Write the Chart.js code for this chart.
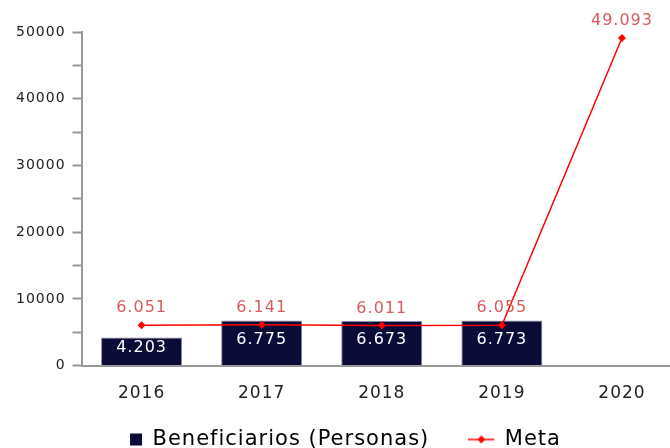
<!DOCTYPE html>
<html>
<head>
<meta charset="utf-8">
<script src="https://cdn.jsdelivr.net/npm/chart.js@4.4.0/dist/chart.umd.min.js"></script>
<style>
  html, body { margin: 0; padding: 0; background: #fff; overflow: hidden; }
  #wrap { width: 690px; height: 448px; }
</style>
</head>
<body>
<div id="wrap"><canvas id="chart"></canvas></div>
<script>
var years = ['2016', '2017', '2018', '2019', '2020'];
var beneficiarios = [4203, 6775, 6673, 6773, null];
var meta = [6051, 6141, 6011, 6055, 49093];
var yTicks = [0, 10000, 20000, 30000, 40000, 50000];

var navy = '#0b0b38';
var red = '#ff0000';
var labelRed = '#d85c5c';

function fmt(v) {
    return String(v).replace(/\B(?=(\d{3})+(?!\d))/g, '.');
}

// legend icon for Meta: line with a diamond, drawn in the left part of a wider canvas
function metaIcon() {
    var c = document.createElement('canvas');
    c.width = 40; c.height = 10;
    var g = c.getContext('2d');
    g.strokeStyle = red; g.lineWidth = 1.5;
    g.beginPath(); g.moveTo(0, 5); g.lineTo(26, 5); g.stroke();
    g.fillStyle = red;
    g.beginPath(); g.moveTo(13, 1); g.lineTo(17, 5); g.lineTo(13, 9); g.lineTo(9, 5); g.closePath(); g.fill();
    return c;
}

// the original text is a bit spaced out
var spacing = {
    id: 'spacing',
    beforeInit: function(chart) { chart.ctx.letterSpacing = '1px'; },
    beforeUpdate: function(chart) { chart.ctx.letterSpacing = '1px'; },
    beforeDraw: function(chart) { chart.ctx.letterSpacing = '1px'; }
};

var valueLabels = {
    id: 'valueLabels',
    afterDatasetsDraw: function(chart) {
        var ctx = chart.ctx;
        ctx.save();
        ctx.font = '16px "DejaVu Sans"';
        ctx.textAlign = 'center';
        ctx.textBaseline = 'middle';
        chart.getDatasetMeta(0).data.forEach(function(bar, i) {
            if (beneficiarios[i] == null) return;
            ctx.fillStyle = '#ffffff';
            ctx.fillText(fmt(beneficiarios[i]), bar.x, (bar.y + bar.base) / 2 - 3);
        });
        chart.getDatasetMeta(1).data.forEach(function(pt, i) {
            ctx.fillStyle = labelRed;
            ctx.fillText(fmt(meta[i]), pt.x, pt.y - 17);
        });
        ctx.restore();
    }
};

new Chart(document.getElementById('chart'), {
    type: 'bar',
    data: {
        labels: years,
        datasets: [{
            label: 'Beneficiarios (Personas)',
            data: beneficiarios,
            backgroundColor: navy,
            borderColor: '#8a8aa0',
            borderWidth: 1,
            categoryPercentage: 1,
            barPercentage: 0.675,
            order: 2
        }, {
            type: 'line',
            label: 'Meta',
            data: meta,
            borderColor: red,
            borderWidth: 1.5,
            backgroundColor: red,
            pointStyle: 'rectRot',
            pointRadius: 4,
            pointBorderWidth: 0,
            tension: 0,
            order: 1
        }]
    },
    options: {
        responsive: true,
        maintainAspectRatio: false,
        animation: false,
        layout: { padding: { top: 32, right: 8, left: 9, bottom: -12 } },
        plugins: {
            tooltip: { enabled: false },
            legend: {
                position: 'bottom',
                labels: {
                    color: '#222',
                    font: { family: 'DejaVu Sans', size: 21 },
                    usePointStyle: true,
                    boxWidth: 12,
                    boxHeight: 12,
                    padding: 7,
                    generateLabels: function(chart) {
                        return [{
                            text: 'Beneficiarios (Personas)      ',
                            fillStyle: navy,
                            strokeStyle: navy,
                            lineWidth: 0,
                            pointStyle: 'rect',
                            datasetIndex: 0
                        }, {
                            text: 'Meta',
                            fillStyle: red,
                            strokeStyle: red,
                            lineWidth: 0,
                            pointStyle: metaIcon(),
                            datasetIndex: 1
                        }];
                    }
                }
            }
        },
        scales: {
            x: {
                grid: { display: false, drawTicks: false },
                border: { color: '#999', width: 2 },
                ticks: { color: '#222', padding: 18, font: { family: 'DejaVu Sans', size: 17 } }
            },
            y: {
                min: 0,
                max: 50000,
                afterBuildTicks: function(axis) {
                    var t = [];
                    for (var v = 0; v <= 50000; v += 5000) t.push({ value: v });
                    axis.ticks = t;
                },
                grid: { drawOnChartArea: false, color: '#999', tickLength: 9, tickWidth: 2 },
                border: { color: '#999', width: 2 },
                ticks: {
                    color: '#222',
                    padding: 7,
                    font: { family: 'DejaVu Sans', size: 14 },
                    callback: function(v) { return yTicks.indexOf(v) >= 0 ? v : ''; }
                }
            }
        }
    },
    plugins: [spacing, valueLabels]
});
</script>
</body>
</html>
